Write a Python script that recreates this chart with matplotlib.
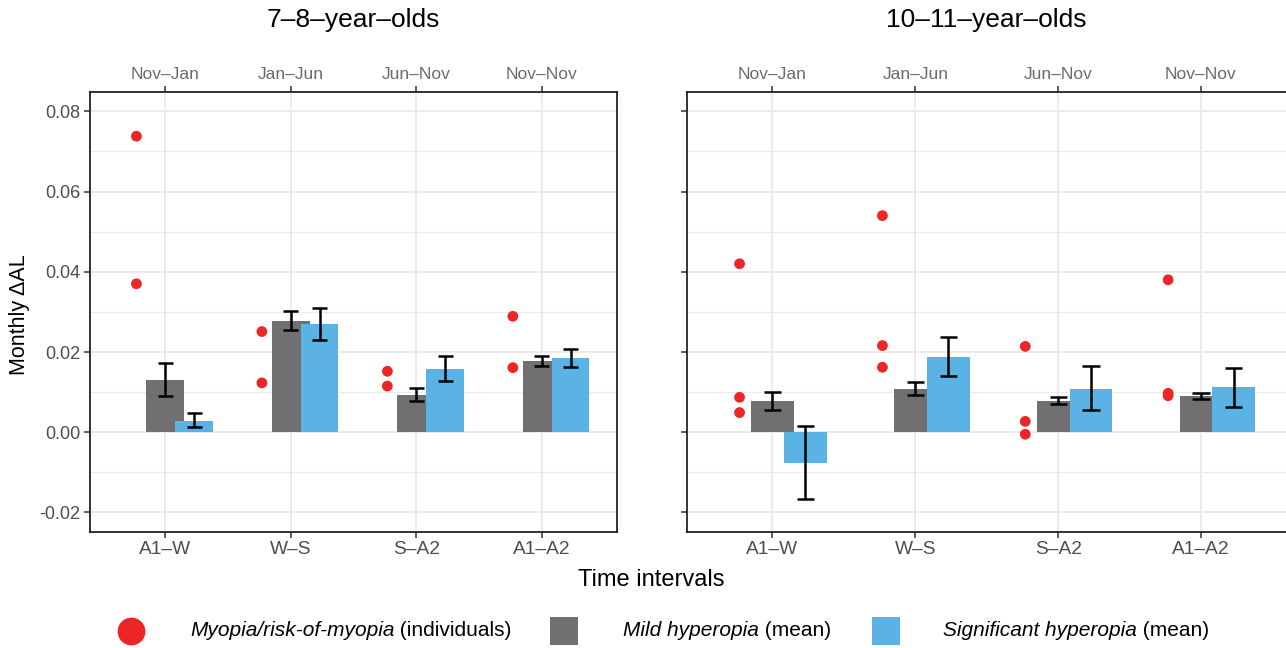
import numpy as np
import matplotlib
matplotlib.use("Agg")
import matplotlib.pyplot as plt
from matplotlib.lines import Line2D

plt.rcParams['font.family'] = ['Liberation Sans', 'DejaVu Sans']

# Intervals and the months they cover
intervals = ["A1–W", "W–S", "S–A2", "A1–A2"]
months = ["Nov–Jan", "Jan–Jun", "Jun–Nov", "Nov–Nov"]
panel_titles = ["7–8–year–olds", "10–11–year–olds"]

# 7-8 year olds
mild_young = [0.0130, 0.0277, 0.0093, 0.0178]
mild_young_lo = [0.0091, 0.0255, 0.0078, 0.0164]
mild_young_hi = [0.0173, 0.0302, 0.0110, 0.0189]
sig_young = [0.0028, 0.0270, 0.0158, 0.0185]
sig_young_lo = [0.0012, 0.0231, 0.0128, 0.0163]
sig_young_hi = [0.0047, 0.0309, 0.0189, 0.0208]
myopia_young = [[0.0738, 0.0370], [0.0251, 0.0123],
                [0.0152, 0.0115], [0.0289, 0.0161]]

# 10-11 year olds
mild_old = [0.0078, 0.0108, 0.0078, 0.0091]
mild_old_lo = [0.0055, 0.0092, 0.0071, 0.0083]
mild_old_hi = [0.0101, 0.0124, 0.0088, 0.0099]
sig_old = [-0.0076, 0.0188, 0.0108, 0.0113]
sig_old_lo = [-0.0166, 0.0141, 0.0056, 0.0064]
sig_old_hi = [0.0015, 0.0237, 0.0164, 0.0161]
myopia_old = [[0.0420, 0.0087, 0.0049], [0.0540, 0.0216, 0.0162],
              [0.0214, 0.0027, -0.0005], [0.0380, 0.0097, 0.0091]]

RED = "#EE2527"
GREY = "#716F6F"
BLUE = "#5BB3E5"
GRID = "#EBEBEB"

W, H = 1286, 648
fig = plt.figure(figsize=(W / 100, H / 100), dpi=100)


def box(x0, y0, x1, y1):
    # pixel box (top-left origin) -> figure fraction rect
    return [x0 / W, 1 - y1 / H, (x1 - x0) / W, (y1 - y0) / H]


def draw_panel(ax, mild, mild_lo, mild_hi, sig, sig_lo, sig_hi, myo, ylabels):
    x = np.arange(len(intervals))
    ax.bar(x, mild, width=0.3, color=GREY, zorder=2)
    ax.bar(x + 0.23, sig, width=0.3, color=BLUE, zorder=3)
    cap = 0.06
    for xs, lo, hi in [(x, mild_lo, mild_hi), (x + 0.23, sig_lo, sig_hi)]:
        ax.vlines(xs, lo, hi, color="black", lw=1.8, zorder=4)
        ax.hlines(lo, xs - cap, xs + cap, color="black", lw=1.8, zorder=4)
        ax.hlines(hi, xs - cap, xs + cap, color="black", lw=1.8, zorder=4)
    for i, pts in enumerate(myo):
        ax.scatter([i - 0.23] * len(pts), pts, s=60, color=RED,
                   edgecolors="none", zorder=5)

    ax.set_xlim(-0.6, len(intervals) - 0.4)
    ax.set_ylim(-0.0248, 0.0849)
    ax.set_xticks(x, intervals)
    ax.set_yticks([-0.02, 0.0, 0.02, 0.04, 0.06, 0.08])
    ax.set_yticks(np.arange(-0.01, 0.08, 0.02), minor=True)
    if ylabels:
        ax.set_yticklabels(["-0.02", "0.00", "0.02", "0.04", "0.06", "0.08"])
    else:
        ax.set_yticklabels([])
    ax.grid(which="major", color=GRID, lw=1.4, zorder=0)
    ax.grid(which="minor", axis="y", color=GRID, lw=0.8, zorder=0)
    ax.set_axisbelow(True)
    ax.tick_params(which="major", length=4, width=1.1, color="#333333",
                   labelsize=13, labelcolor="#4D4D4D", pad=3)
    ax.tick_params(axis="x", labelsize=13.8)
    ax.tick_params(which="minor", length=0)
    for s in ax.spines.values():
        s.set_color("#222222")
        s.set_linewidth(1.3)

    top = ax.secondary_xaxis("top")
    top.set_xticks(x, months)
    top.tick_params(length=4, width=1.1, color="#333333",
                    labelsize=12.5, labelcolor="#6B6B6B", pad=3)
    top.spines["top"].set_visible(False)


ax1 = fig.add_axes(box(90, 91.7, 617, 531.7))
ax2 = fig.add_axes(box(686.7, 91.7, 1286.7, 531.7))
draw_panel(ax1, mild_young, mild_young_lo, mild_young_hi,
           sig_young, sig_young_lo, sig_young_hi, myopia_young, True)
draw_panel(ax2, mild_old, mild_old_lo, mild_old_hi,
           sig_old, sig_old_lo, sig_old_hi, myopia_old, False)

fig.text(353.5 / W, 1 - 20 / H, panel_titles[0], ha="center", va="center", fontsize=19)
fig.text(986.7 / W, 1 - 20 / H, panel_titles[1], ha="center", va="center", fontsize=19)
fig.text(20 / W, 1 - 315 / H, "Monthly ΔAL", rotation=90, ha="center",
         va="center", fontsize=15.5)
fig.text(651 / W, 1 - 580 / H, "Time intervals", ha="center", va="center", fontsize=17)

# legend along the bottom, italic group name followed by plain text
ly = 1 - 631 / H
fig.add_artist(Line2D([131 / W], [ly], marker="o", markersize=20, color=RED,
                      markeredgewidth=0, transform=fig.transFigure))
fig.add_artist(Line2D([564 / W], [ly], marker="s", markersize=20, color=GREY,
                      markeredgewidth=0, transform=fig.transFigure))
fig.add_artist(Line2D([886 / W], [ly], marker="s", markersize=20, color=BLUE,
                      markeredgewidth=0, transform=fig.transFigure))

renderer = fig.canvas.get_renderer()
for x0, ital, plain in [(190, "Myopia/risk-of-myopia", " (individuals)"),
                        (623, "Mild hyperopia", " (mean)"),
                        (943, "Significant hyperopia", " (mean)")]:
    t = fig.text(x0 / W, ly, ital, style="italic", ha="left", va="center",
                 fontsize=15)
    ext = t.get_window_extent(renderer)
    fig.text(ext.x1 / W, ly, plain, ha="left", va="center", fontsize=15)

fig.savefig("out.png", dpi=100)
